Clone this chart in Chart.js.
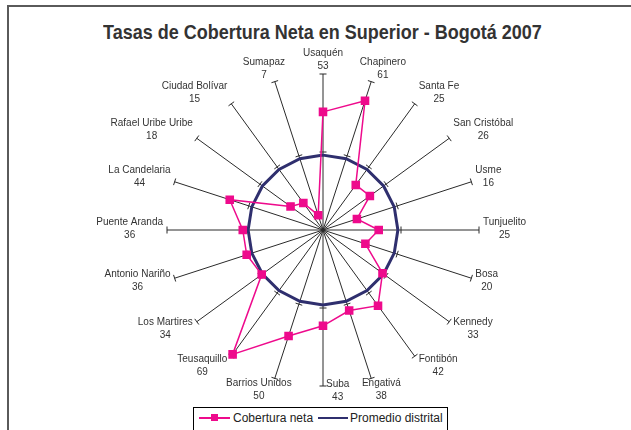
<!DOCTYPE html>
<html>
<head>
<meta charset="utf-8">
<script src="https://cdn.jsdelivr.net/npm/chart.js@4/dist/chart.umd.min.js"></script>
<style>
  html, body { margin: 0; padding: 0; background: #fff; }
  #wrap { position: relative; width: 631px; height: 430px; overflow: hidden; background: #fff;
          font-family: 'Liberation Sans', Arial, sans-serif; }
  #frame { position: absolute; left: 7px; top: 5px; width: 700px; height: 500px;
           border-top: 2px solid #5a5a5a; border-left: 2px solid #5a5a5a; }
  #title { position: absolute; left: 7px; top: 21px; width: 631px; text-align: center;
           font-weight: bold; font-size: 18px; line-height: 22px; color: #333;
           transform: scaleY(1.12); }
  #chart { position: absolute; left: 0; top: 0; }
  #legend { position: absolute; left: 193px; top: 407px; width: 253px; height: 40px;
            border: 1px solid #000; background: #fff; font-size: 12px; color: #222; }
  #legend .txt { position: absolute; top: 3px; line-height: 15px; white-space: nowrap; }
  #legend .ln { position: absolute; top: 9px; height: 2px; }
  #legend .mk { position: absolute; top: 6px; width: 7px; height: 7px; }
</style>
</head>
<body>
<div id="wrap">
  <div id="frame"></div>
  <div id="title">Tasas de Cobertura Neta en Superior - Bogotá 2007</div>
  <canvas id="chart" width="631" height="430"></canvas>
  <div id="legend">
    <span class="ln" style="left:5px;width:31px;background:#ee0a8c"></span>
    <span class="mk" style="left:17px;background:#ee0a8c"></span>
    <span class="txt" style="left:39px">Cobertura neta</span>
    <span class="ln" style="left:124px;width:30px;background:#2f2f6e"></span>
    <span class="txt" style="left:156px">Promedio distrital</span>
  </div>
</div>
<script>
// Localidades de Bogotá, en el orden del radar (sentido horario desde arriba)
const districts = [
  'Usaquén', 'Chapinero', 'Santa Fe', 'San Cristóbal', 'Usme', 'Tunjuelito',
  'Bosa', 'Kennedy', 'Fontibón', 'Engativá', 'Suba', 'Barrios Unidos',
  'Teusaquillo', 'Los Martires', 'Antonio Nariño', 'Puente Aranda',
  'La Candelaria', 'Rafael Uribe Uribe', 'Ciudad Bolívar', 'Sumapaz'
];
const coverage = [53, 61, 25, 26, 16, 25, 20, 33, 42, 38, 43, 50, 69, 34, 36, 36, 44, 18, 15, 7];
const districtAverage = 33.6;
const axisMax = 70;
const axisTicks = [35, 70];

const PINK = '#ee0a8c';
const NAVY = '#2f2f6e';
const SPOKE = '#2a2a2a';
const LABEL_FONT = '10px "Liberation Sans", Arial, sans-serif';
const LINE_H = 13;

// small perpendicular tick marks on every spoke
const spokeTicks = {
  id: 'spokeTicks',
  beforeDatasetsDraw(chart) {
    const r = chart.scales.r;
    const ctx = chart.ctx;
    ctx.save();
    ctx.strokeStyle = SPOKE;
    ctx.lineWidth = 1;
    districts.forEach((d, i) => {
      axisTicks.forEach(v => {
        const p = r.getPointPosition(i, r.getDistanceFromCenterForValue(v));
        const a = r.getIndexAngle(i);
        const dx = Math.cos(a) * 3.5, dy = Math.sin(a) * 3.5;
        ctx.beginPath();
        ctx.moveTo(p.x - dx, p.y - dy);
        ctx.lineTo(p.x + dx, p.y + dy);
        ctx.stroke();
      });
    });
    ctx.restore();
  }
};

// category labels: name + value, next to the end of each spoke
const spokeLabels = {
  id: 'spokeLabels',
  afterDraw(chart) {
    const r = chart.scales.r;
    const ctx = chart.ctx;
    ctx.save();
    ctx.font = LABEL_FONT;
    ctx.fillStyle = '#333';
    ctx.textAlign = 'center';
    ctx.textBaseline = 'middle';
    districts.forEach((name, i) => {
      const lines = [name, String(coverage[i])];
      const w = Math.max(...lines.map(l => ctx.measureText(l).width));
      const h = LINE_H * lines.length;
      const a = r.getIndexAngle(i);
      const s = Math.sin(a);
      const p = r.getPointPosition(i, r.drawingArea);
      let left, top;
      if (Math.abs(s) < 0.01 && Math.cos(a) < 0) {
        // bottom spoke: label sits beside the spoke end
        left = p.x + 3;
        top = p.y - 8;
      } else {
        const f = Math.abs(s) > 0.5 ? Math.sign(s) : 1.4 * s;
        left = p.x - w / 2 + f * (w / 2 + 4);
        top = p.y - h / 2 - (h / 2) * Math.cos(a) - 1;
      }
      lines.forEach((l, k) => ctx.fillText(l, left + w / 2, top + LINE_H * k + LINE_H / 2));
    });
    ctx.restore();
  }
};

new Chart(document.getElementById('chart'), {
  type: 'radar',
  data: {
    labels: districts,
    datasets: [
      {
        label: 'Cobertura neta',
        data: coverage,
        borderColor: PINK,
        backgroundColor: PINK,
        borderWidth: 1.5,
        fill: false,
        tension: 0,
        pointStyle: 'rect',
        pointRadius: 5,
        pointHoverRadius: 5,
        pointBackgroundColor: PINK,
        pointBorderColor: PINK,
        order: 1
      },
      {
        label: 'Promedio distrital',
        data: districts.map(() => districtAverage),
        borderColor: NAVY,
        borderWidth: 3,
        fill: false,
        tension: 0,
        pointRadius: 0,
        order: 2
      }
    ]
  },
  options: {
    responsive: false,
    animation: false,
    devicePixelRatio: 1,
    layout: { padding: { left: 100, right: 85, top: 74, bottom: 44 } },
    plugins: {
      legend: { display: false },
      title: { display: false },
      tooltip: { enabled: false }
    },
    scales: {
      r: {
        min: 0,
        max: axisMax,
        ticks: { display: false, stepSize: 35 },
        grid: { display: false },
        angleLines: { display: true, color: SPOKE, lineWidth: 1 },
        pointLabels: { display: false }
      }
    }
  },
  plugins: [spokeTicks, spokeLabels]
});
</script>
</body>
</html>
